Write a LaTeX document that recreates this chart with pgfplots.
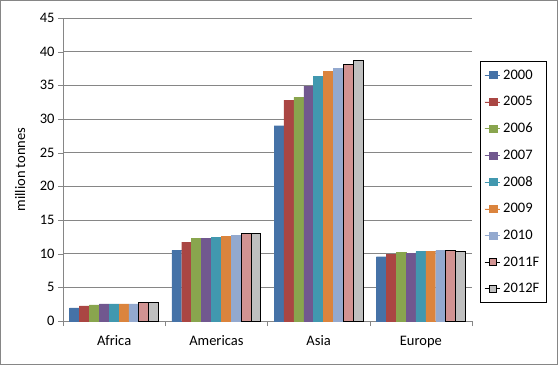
\documentclass[border=0pt]{standalone}
\usepackage{fontspec}
\setmainfont{Carlito}
\usepackage{pgfplots}
\pgfplotsset{compat=1.18}
\definecolor{axisgray}{HTML}{868686}
\definecolor{c1}{HTML}{4572A7}
\definecolor{c2}{HTML}{AA4643}
\definecolor{c3}{HTML}{89A54E}
\definecolor{c4}{HTML}{71588F}
\definecolor{c5}{HTML}{4198AF}
\definecolor{c6}{HTML}{DB843D}
\definecolor{c7}{HTML}{93A9CF}
\definecolor{c8}{HTML}{D19392}
\definecolor{c9}{HTML}{BFBFBF}
\begin{document}
\begin{tikzpicture}[x=1bp,y=1bp]
\useasboundingbox (0,0) rectangle (558,365);
\draw[axisgray] (0.5,0.5) rectangle (557.5,364.5);
\begin{axis}[
  at={(63bp,44bp)}, anchor=south west,
  scale only axis, width=409bp, height=303bp,
  ybar=0pt, bar width=9.9bp,
  xmin=-0.5, xmax=3.5, ymin=0, ymax=45,
  xtick={-0.5,0.5,1.5,2.5,3.5}, xticklabels={},
  extra x ticks={0,1,2,3},
  extra x tick labels={Africa,Americas,Asia,Europe},
  extra x tick style={major tick length=0pt},
  ytick={0,5,...,45},
  axis x line*=bottom, axis y line*=left,
  axis line style={-, draw=axisgray},
  ymajorgrids, grid style={axisgray},
  tick align=outside, major tick length=5bp,
  tick style={axisgray},
  /pgf/number format/assume math mode=true,
  tick label style={font=\fontsize{14.5bp}{16bp}\selectfont, text=black},
  xticklabel style={anchor=base, yshift=-24.7bp},
  ylabel={million tonnes},
  ylabel style={font=\fontsize{14.5bp}{16bp}\selectfont, at={(axis description cs:-0.105,0.5)}, anchor=center},
  legend style={at={(1.0196,0.459)}, anchor=west, draw=black, font=\fontsize{14.5bp}{16bp}\selectfont,
    row sep=11.7bp, inner xsep=4bp, inner ysep=6bp, cells={anchor=west},
    nodes={inner xsep=3bp}},
  legend image code/.code={\path (0bp,0bp) -- (15bp,0bp); \draw[#1] (4.5bp,-3.5bp) rectangle (12bp,3.5bp);},
]
\addplot[fill=c1, draw=c1] coordinates {(0,1.95) (1,10.5) (2,29.0) (3,9.55)};
\addplot[fill=c2, draw=c2] coordinates {(0,2.25) (1,11.7) (2,32.8) (3,9.9)};
\addplot[fill=c3, draw=c3] coordinates {(0,2.4) (1,12.3) (2,33.2) (3,10.15)};
\addplot[fill=c4, draw=c4] coordinates {(0,2.55) (1,12.3) (2,34.9) (3,10.0)};
\addplot[fill=c5, draw=c5] coordinates {(0,2.55) (1,12.45) (2,36.3) (3,10.3)};
\addplot[fill=c6, draw=c6] coordinates {(0,2.55) (1,12.6) (2,37.1) (3,10.3)};
\addplot[fill=c7, draw=c7] coordinates {(0,2.55) (1,12.75) (2,37.5) (3,10.45)};
\addplot[fill=c8, draw=black, line width=1bp] coordinates {(0,2.7) (1,13.0) (2,38.1) (3,10.4)};
\addplot[fill=c9, draw=black, line width=1bp] coordinates {(0,2.7) (1,13.0) (2,38.7) (3,10.25)};
\legend{2000,2005,2006,2007,2008,2009,2010,2011F,2012F}
\end{axis}
\end{tikzpicture}
\end{document}
